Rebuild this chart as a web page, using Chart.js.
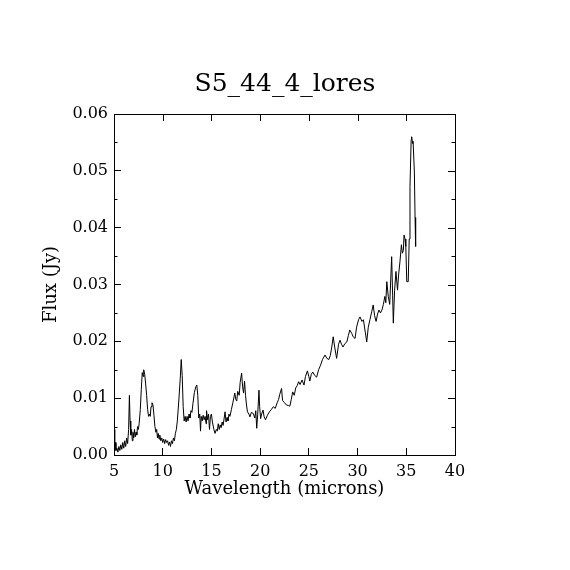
<!DOCTYPE html>
<html>
<head>
<meta charset="utf-8">
<script src="https://cdn.jsdelivr.net/npm/chart.js@4/dist/chart.umd.min.js"></script>
<style>
  html, body { margin: 0; padding: 0; background: #fff; }
  canvas { display: block; }
</style>
</head>
<body>
<canvas id="myChart" width="570" height="570"></canvas>
<script>
// spectrum: wavelength (microns) and flux (Jy)
const wavelength = [
  5.00, 5.05, 5.10, 5.15, 5.20, 5.30, 5.40, 5.50, 5.60, 5.70, 5.80, 5.90, 6.00, 6.10, 6.20, 6.30, 6.40, 6.50, 6.58, 6.65,
  6.72, 6.80, 6.88, 6.95, 7.02, 7.10, 7.18, 7.26, 7.34, 7.42, 7.50, 7.58, 7.70, 7.80, 7.90, 8.00, 8.05, 8.15, 8.25, 8.35,
  8.45, 8.55, 8.65, 8.72, 8.80, 8.90, 9.00, 9.10, 9.20, 9.30, 9.38, 9.46, 9.54, 9.62, 9.70, 9.80, 9.90, 10.00, 10.10, 10.20,
  10.30, 10.40, 10.50, 10.60, 10.70, 10.80, 10.90, 11.00, 11.10, 11.20, 11.30, 11.40, 11.50, 11.65, 11.80, 11.90, 12.00, 12.10, 12.20, 12.30,
  12.40, 12.50, 12.60, 12.70, 12.80, 12.90, 13.00, 13.10, 13.25, 13.40, 13.50, 13.60, 13.70, 13.80, 13.88, 13.95, 14.05, 14.15, 14.25, 14.35,
  14.45, 14.50, 14.60, 14.70, 14.80, 14.90, 15.00, 15.10, 15.25, 15.37, 15.50, 15.60, 15.70, 15.80, 15.90, 16.00, 16.10, 16.20, 16.40, 16.50,
  16.60, 16.70, 16.80, 16.90, 17.05, 17.20, 17.40, 17.50, 17.60, 17.70, 17.85, 17.95, 18.10, 18.20, 18.30, 18.40, 18.50, 18.60, 18.70, 18.85,
  18.95, 19.10, 19.30, 19.45, 19.55, 19.65, 19.75, 19.88, 19.95, 20.05, 20.15, 20.30, 20.40, 20.55, 20.75, 20.95, 21.15, 21.35, 21.55, 21.75,
  21.90, 22.00, 22.20, 22.30, 22.50, 22.70, 22.90, 23.05, 23.20, 23.34, 23.50, 23.65, 23.80, 23.95, 24.10, 24.30, 24.50, 24.65, 24.85, 25.00,
  25.10, 25.25, 25.40, 25.60, 25.80, 26.00, 26.20, 26.40, 26.66, 26.85, 27.05, 27.20, 27.35, 27.50, 27.65, 27.85, 28.05, 28.20, 28.35, 28.50,
  28.70, 28.90, 29.05, 29.20, 29.40, 29.55, 29.74, 29.90, 30.10, 30.25, 30.45, 30.60, 30.80, 30.94, 31.10, 31.27, 31.45, 31.60, 31.75, 31.90,
  32.05, 32.20, 32.35, 32.50, 32.65, 32.80, 32.90, 33.00, 33.15, 33.30, 33.50, 33.60, 33.67, 33.80, 33.94, 34.10, 34.20, 34.35, 34.50, 34.60,
  34.70, 34.77, 34.87, 34.95, 35.05, 35.20, 35.30, 35.38, 35.50, 35.55, 35.65, 35.70, 35.83, 35.90, 35.96
];
const flux = [
  0.0045, 0.0040, 0.0015, 0.0022, 0.0008, 0.0012, 0.0005, 0.0015, 0.0008, 0.0018, 0.0010, 0.0022, 0.0012, 0.0025, 0.0015, 0.0030, 0.0020, 0.0045, 0.0105, 0.0060,
  0.0035, 0.0045, 0.0025, 0.0040, 0.0030, 0.0045, 0.0032, 0.0040, 0.0035, 0.0050, 0.0045, 0.0055, 0.0080, 0.0115, 0.0145, 0.0138, 0.0150, 0.0142, 0.0125, 0.0105,
  0.0080, 0.0068, 0.0072, 0.0068, 0.0085, 0.0092, 0.0088, 0.0070, 0.0050, 0.0040, 0.0045, 0.0030, 0.0038, 0.0028, 0.0035, 0.0025, 0.0030, 0.0022, 0.0028, 0.0020,
  0.0027, 0.0022, 0.0025, 0.0017, 0.0023, 0.0015, 0.0025, 0.0020, 0.0030, 0.0025, 0.0038, 0.0045, 0.0060, 0.0095, 0.0135, 0.0168, 0.0140, 0.0085, 0.0060, 0.0068,
  0.0058, 0.0068, 0.0060, 0.0072, 0.0065, 0.0078, 0.0075, 0.0090, 0.0110, 0.0120, 0.0123, 0.0105, 0.0065, 0.0072, 0.0042, 0.0068, 0.0060, 0.0070, 0.0062, 0.0068,
  0.0055, 0.0078, 0.0062, 0.0072, 0.0045, 0.0068, 0.0072, 0.0058, 0.0045, 0.0038, 0.0045, 0.0042, 0.0055, 0.0045, 0.0053, 0.0048, 0.0058, 0.0052, 0.0076, 0.0058,
  0.0066, 0.0060, 0.0072, 0.0068, 0.0080, 0.0092, 0.0109, 0.0098, 0.0095, 0.0112, 0.0105, 0.0128, 0.0144, 0.0120, 0.0109, 0.0130, 0.0105, 0.0088, 0.0076, 0.0072,
  0.0067, 0.0075, 0.0073, 0.0065, 0.0078, 0.0047, 0.0072, 0.0114, 0.0085, 0.0064, 0.0072, 0.0079, 0.0068, 0.0062, 0.0070, 0.0076, 0.0080, 0.0085, 0.0082, 0.0092,
  0.0098, 0.0106, 0.0117, 0.0096, 0.0092, 0.0088, 0.0087, 0.0086, 0.0098, 0.0111, 0.0105, 0.0118, 0.0122, 0.0129, 0.0124, 0.0132, 0.0123, 0.0138, 0.0148, 0.0138,
  0.0130, 0.0142, 0.0146, 0.0140, 0.0137, 0.0150, 0.0158, 0.0168, 0.0176, 0.0170, 0.0168, 0.0175, 0.0190, 0.0208, 0.0190, 0.0170, 0.0195, 0.0202, 0.0195, 0.0190,
  0.0196, 0.0199, 0.0210, 0.0220, 0.0214, 0.0208, 0.0205, 0.0225, 0.0238, 0.0243, 0.0235, 0.0238, 0.0215, 0.0199, 0.0225, 0.0238, 0.0252, 0.0264, 0.0245, 0.0235,
  0.0248, 0.0255, 0.0250, 0.0255, 0.0265, 0.0279, 0.0268, 0.0305, 0.0279, 0.0265, 0.0349, 0.0280, 0.0232, 0.0290, 0.0323, 0.0290, 0.0315, 0.0340, 0.0370, 0.0355,
  0.0360, 0.0387, 0.0380, 0.0367, 0.0305, 0.0305, 0.0380, 0.0472, 0.0555, 0.0560, 0.0548, 0.0552, 0.0498, 0.0418, 0.0367
];

const xTicks = [5, 10, 15, 20, 25, 30, 35, 40];
const yTicks = [0, 0.01, 0.02, 0.03, 0.04, 0.05, 0.06];
const yMinorTicks = [0.005, 0.015, 0.025, 0.035, 0.045, 0.055];

const points = wavelength.map((w, i) => ({ x: w, y: flux[i] }));
const serif = 'DejaVu Serif';

// frame on top/right plus mirrored and minor ticks, all placed by the scales
const framePlugin = {
  id: 'frame',
  afterDraw(chart) {
    const { ctx, chartArea: a, scales } = chart;
    const xs = scales.x, ys = scales.y;
    ctx.save();
    ctx.strokeStyle = '#000';
    ctx.lineWidth = 1;
    ctx.beginPath();
    ctx.moveTo(a.left, a.top + 0.5);
    ctx.lineTo(a.right + 0.5, a.top + 0.5);
    ctx.lineTo(a.right + 0.5, a.bottom);
    xTicks.forEach(v => {
      const px = Math.round(xs.getPixelForValue(v)) + 0.5;
      ctx.moveTo(px, a.top);
      ctx.lineTo(px, a.top + 7);
    });
    yTicks.forEach(v => {
      const py = Math.round(ys.getPixelForValue(v)) + 0.5;
      ctx.moveTo(a.right, py);
      ctx.lineTo(a.right - 7, py);
    });
    yMinorTicks.forEach(v => {
      const py = Math.round(ys.getPixelForValue(v)) + 0.5;
      ctx.moveTo(a.left, py);
      ctx.lineTo(a.left + 3.5, py);
      ctx.moveTo(a.right, py);
      ctx.lineTo(a.right - 3.5, py);
    });
    ctx.stroke();
    ctx.restore();
  }
};

const ctx = document.getElementById('myChart').getContext('2d');
window.myChart = new Chart(ctx, {
  type: 'line',
  data: {
    datasets: [{
      label: 'S5_44_4_lores',
      data: points,
      borderColor: '#000',
      borderWidth: 1,
      pointRadius: 0,
      tension: 0,
      fill: false
    }]
  },
  options: {
    responsive: false,
    animation: false,
    devicePixelRatio: 1,
    layout: { padding: { top: 60, left: 30, right: 30, bottom: 55 } },
    plugins: {
      legend: { display: false },
      tooltip: { enabled: false },
      title: {
        display: true,
        text: 'S5_44_4_lores',
        color: '#000',
        font: { family: serif, size: 25, weight: 'normal' },
        padding: { top: 9, bottom: 15 }
      }
    },
    scales: {
      x: {
        type: 'linear',
        min: 5,
        max: 40,
        afterFit: s => { s.height = 60; },
        afterBuildTicks: s => { s.ticks = xTicks.map(v => ({ value: v })); },
        ticks: {
          color: '#000',
          padding: 14,
          maxRotation: 0,
          font: { family: serif, size: 16 },
          callback: v => String(v)
        },
        grid: { drawOnChartArea: false, tickLength: -7, color: '#000' },
        border: { color: '#000', width: 1 },
        title: {
          display: true,
          text: 'Wavelength (microns)',
          color: '#000',
          font: { family: serif, size: 18 },
          padding: { top: 0, bottom: 15 }
        }
      },
      y: {
        min: 0,
        max: 0.06,
        afterFit: s => { s.width = 84; },
        afterBuildTicks: s => { s.ticks = yTicks.map(v => ({ value: v })); },
        ticks: {
          color: '#000',
          padding: 13,
          font: { family: serif, size: 16 },
          callback: v => v.toFixed(2)
        },
        grid: { drawOnChartArea: false, tickLength: -7, color: '#000' },
        border: { color: '#000', width: 1 },
        title: {
          display: true,
          text: 'Flux (Jy)',
          color: '#000',
          font: { family: serif, size: 18 },
          padding: { top: 11, bottom: 0 }
        }
      },
      // empty right-hand axis that only reserves space, so the title centres over the frame
      yRight: {
        position: 'right',
        min: 0,
        max: 0.06,
        afterFit: s => { s.width = 85; },
        ticks: { display: false },
        grid: { display: false },
        border: { display: false }
      }
    }
  },
  plugins: [framePlugin]
});
</script>
</body>
</html>
